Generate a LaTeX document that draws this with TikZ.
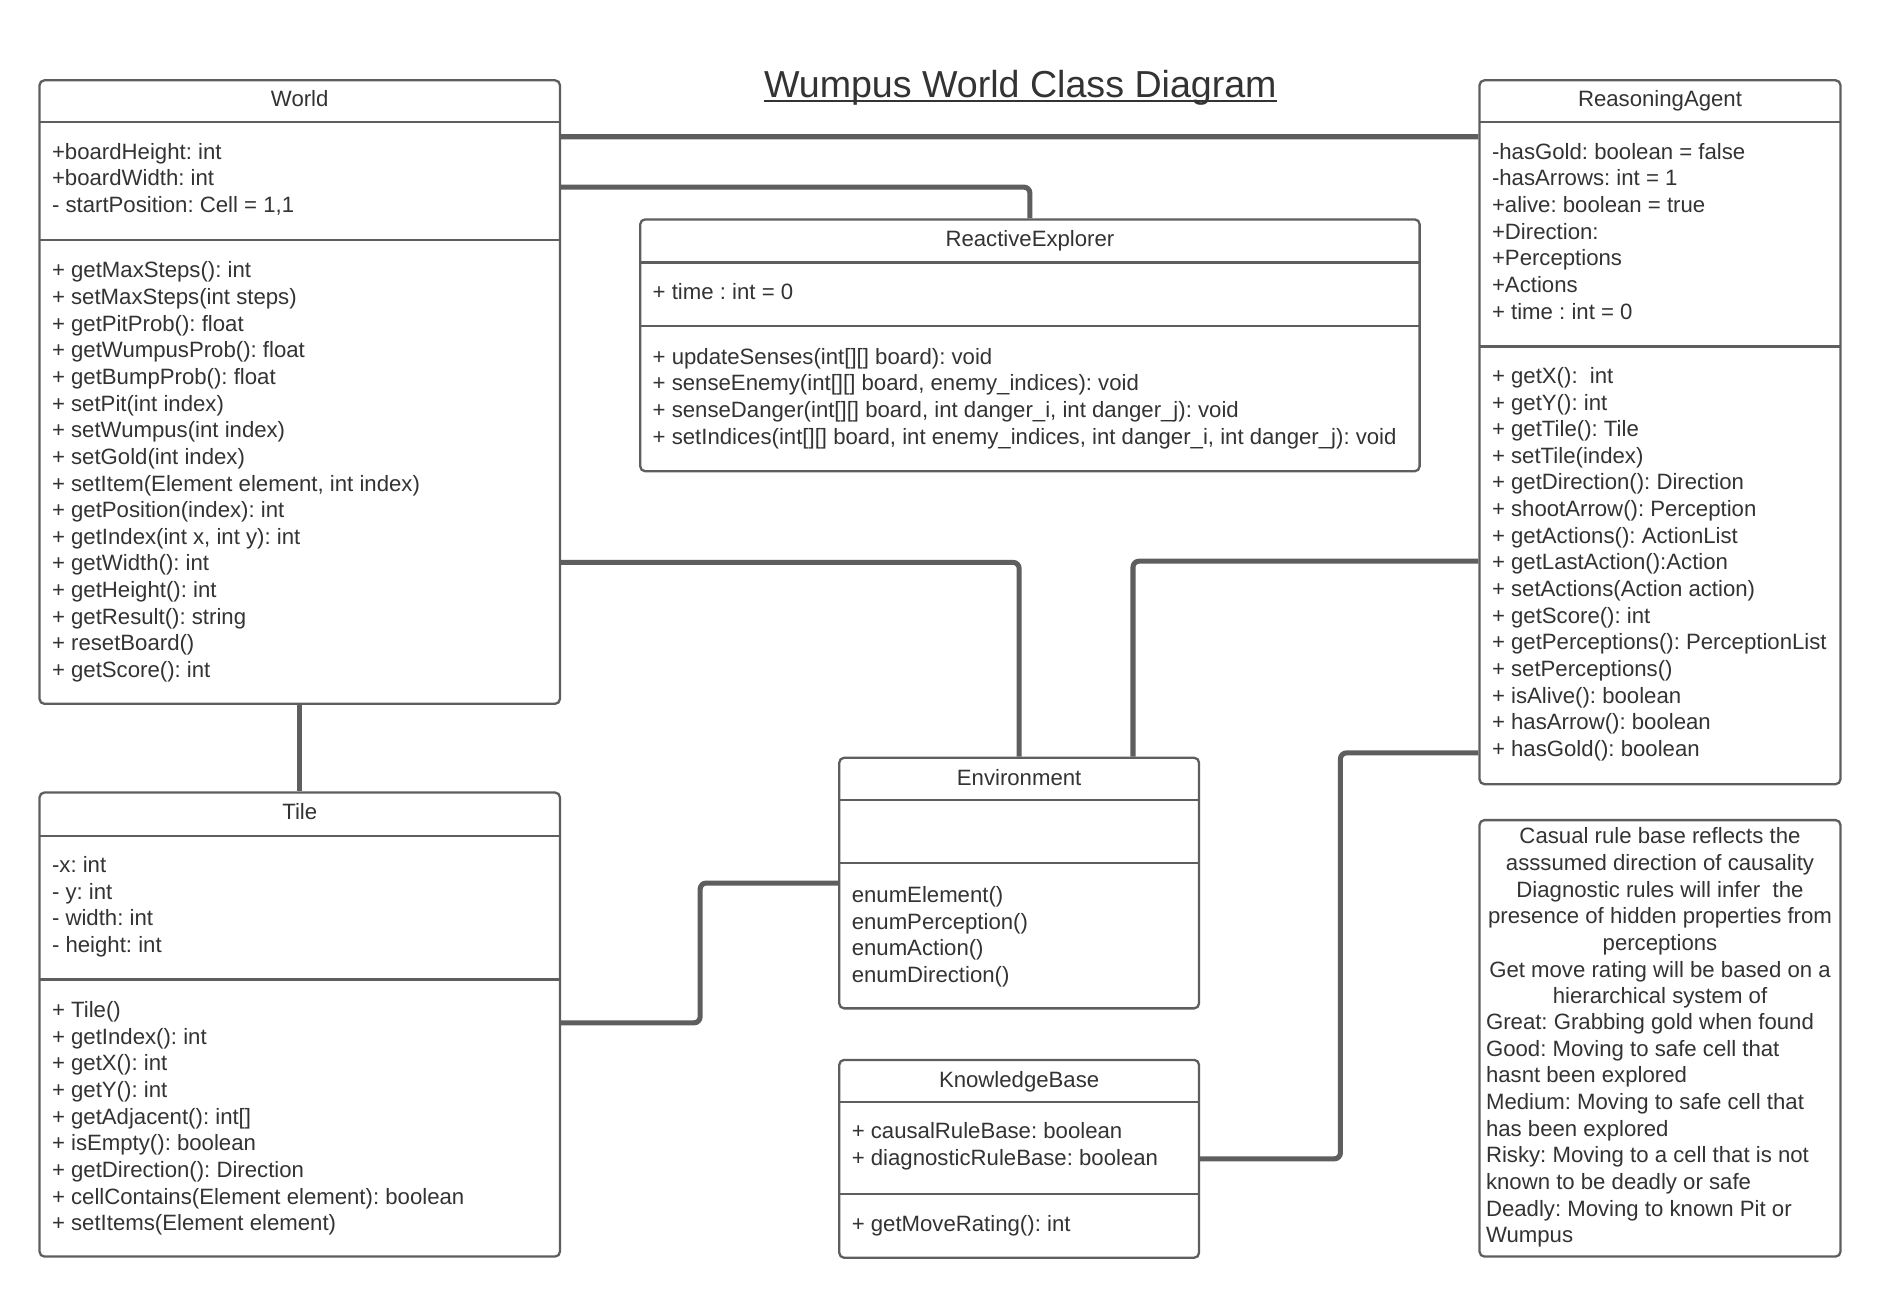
\documentclass[tikz,border=0pt]{standalone}
\usepackage{fontspec}
\setmainfont{Liberation Sans}
\usetikzlibrary{calc,fit}
\frenchspacing

\definecolor{linegray}{HTML}{5E5E5E}
\definecolor{textgray}{HTML}{333333}

\tikzset{
  classbox/.style={draw=linegray, line width=0.95pt, rounded corners=2pt, inner sep=0pt},
  divider/.style={draw=linegray, line width=0.95pt},
  member/.style={anchor=north west, inner sep=0pt, align=left, text=textgray,
    font=\fontsize{9.2}{11.05}\selectfont},
  heading/.style={anchor=north, inner sep=0pt, text=textgray,
    font=\fontsize{9.2}{11.05}\selectfont},
  link/.style={draw=linegray, line width=2.1pt, rounded corners=2.5pt},
}

\begin{document}
\begin{tikzpicture}[x=0.49745pt, y=-0.49745pt]

    \fill[white] (0,0) rectangle (1568,1082.6);

    % title
    \node[anchor=base, inner sep=0pt, text=textgray, font=\fontsize{15.6}{18}\selectfont] (title) at (851,81) {Wumpus World Class Diagram};
    \draw[textgray, line width=0.85pt] ($(title.base west)+(0,3)$) -- ($(title.base east)+(0,3)$);

    % World
    \node[classbox, fit={(33,67) (467,587)}] (world) {};
    \draw[divider] (33,102) -- (467,102);
    \draw[divider] (33,200) -- (467,200);
    \node[heading] (worldname) at (250,75) {World};
    \node[member] (worldattr) at (43,119) {+boardHeight: int\\+boardWidth: int\\- startPosition: Cell = 1,1};
    \node[member] (worldops) at (43,218) {+ getMaxSteps(): int\\+ setMaxSteps(int steps)\\+ getPitProb(): float\\+ getWumpusProb(): float\\+ getBumpProb(): float\\+ setPit(int index)\\+ setWumpus(int index)\\+ setGold(int index)\\+ setItem(Element element, int index)\\+ getPosition(index): int\\+ getIndex(int x, int y): int\\+ getWidth(): int\\+ getHeight(): int\\+ getResult(): string\\+ resetBoard()\\+ getScore(): int};

    % ReactiveExplorer
    \node[classbox, fit={(534,183) (1184,393)}] (explorer) {};
    \draw[divider] (534,219) -- (1184,219);
    \draw[divider] (534,272) -- (1184,272);
    \node[heading] (explorername) at (859,192) {ReactiveExplorer};
    \node[member] (explorerattr) at (544,236) {+ time : int = 0};
    \node[member] (explorerops) at (544,290) {+ updateSenses(int[][] board): void\\+ senseEnemy(int[][] board, enemy\_indices): void\\+ senseDanger(int[][] board, int danger\_i, int danger\_j): void\\+ setIndices(int[][] board, int enemy\_indices, int danger\_i, int danger\_j): void};

    % ReasoningAgent
    \node[classbox, fit={(1234,67) (1535,654)}] (agent) {};
    \draw[divider] (1234,102) -- (1535,102);
    \draw[divider] (1234,289) -- (1535,289);
    \node[heading] (agentname) at (1384.5,75) {ReasoningAgent};
    \node[member] (agentattr) at (1244,119) {-hasGold: boolean = false\\-hasArrows: int = 1\\+alive: boolean = true\\+Direction:\\+Perceptions\\+Actions\\+ time : int = 0};
    \node[member] (agentops) at (1244,306) {+ getX():\ \ int\\+ getY(): int\\+ getTile(): Tile\\+ setTile(index)\\+ getDirection(): Direction\\+ shootArrow(): Perception\\+ getActions(): ActionList\\+ getLastAction():Action\\+ setActions(Action action)\\+ getScore(): int\\+ getPerceptions(): PerceptionList\\+ setPerceptions()\\+ isAlive(): boolean\\+ hasArrow(): boolean\\+ hasGold(): boolean};

    % Tile
    \node[classbox, fit={(33,661) (467,1048)}] (tile) {};
    \draw[divider] (33,697) -- (467,697);
    \draw[divider] (33,817) -- (467,817);
    \node[heading] (tilename) at (250,670) {Tile};
    \node[member] (tileattr) at (43,714) {-x: int\\- y: int\\- width: int\\- height: int};
    \node[member] (tileops) at (43,835) {+ Tile()\\+ getIndex(): int\\+ getX(): int\\+ getY(): int\\+ getAdjacent(): int[]\\+ isEmpty(): boolean\\+ getDirection(): Direction\\+ cellContains(Element element): boolean\\+ setItems(Element element)};

    % Environment
    \node[classbox, fit={(700,632) (1000,841)}] (env) {};
    \draw[divider] (700,667) -- (1000,667);
    \draw[divider] (700,720) -- (1000,720);
    \node[heading] (envname) at (850,641) {Environment};
    \node[member] (envops) at (710,739) {enumElement()\\enumPerception()\\enumAction()\\enumDirection()};

    % KnowledgeBase
    \node[classbox, fit={(700,884) (1000,1049)}] (kb) {};
    \draw[divider] (700,919) -- (1000,919);
    \draw[divider] (700,996) -- (1000,996);
    \node[heading] (kbname) at (850,893) {KnowledgeBase};
    \node[member] (kbattr) at (710,936) {+ causalRuleBase: boolean\\+ diagnosticRuleBase: boolean};
    \node[member] (kbops) at (710,1013) {+ getMoveRating(): int};

    % note
    \node[classbox, fit={(1234,684) (1535,1048)}] (note) {};
    \node[heading, align=center] (notehead) at (1384.5,690) {Casual rule base reflects the\\asssumed direction of causality\\Diagnostic rules will infer\ \ the\\presence of hidden properties from\\perceptions\\Get move rating will be based on a\\hierarchical system of};
    \node[member] (notelist) at (1239,845) {Great: Grabbing gold when found\\Good: Moving to safe cell that\\hasnt been explored\\Medium: Moving to safe cell that\\has been explored\\Risky: Moving to a cell that is not\\known to be deadly or safe\\Deadly: Moving to known Pit or\\Wumpus};

    % connectors
    \draw[link] ($(world.north east)+(0,48)$) -- ($(agent.north west)+(0,48)$);
    \draw[link] ($(world.north east)+(0,90)$) -| (explorer.north);
    \draw[link] ($(world.north east)+(0,403)$) -| (env.north);
    \draw[link] ($(agent.north west)+(0,402)$) -| ($(env.north east)+(-56,0)$);
    \draw[link] (world.south) -- (tile.north);
    \draw[link] ($(tile.north east)+(0,193)$) -- ++(116,0) |- (env.west);
    \draw[link] (kb.east) -- ++(117,0) |- ($(agent.south west)+(0,-27)$);

\end{tikzpicture}
\end{document}
